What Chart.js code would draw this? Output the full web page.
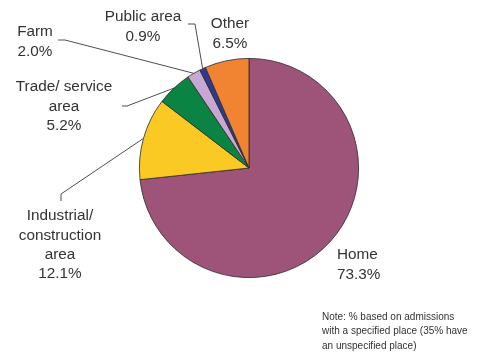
<!DOCTYPE html>
<html>
<head>
<meta charset="utf-8">
<script src="https://cdn.jsdelivr.net/npm/chart.js@4.4.1/dist/chart.umd.min.js"></script>
<style>
html,body{margin:0;padding:0;background:#fff;}
#wrap{position:relative;width:479px;height:352px;}
</style>
</head>
<body>
<div id="wrap"><canvas id="c" width="479" height="352"></canvas></div>
<script>
const categories = ["Home", "Industrial/ construction area", "Trade/ service area", "Farm", "Public area", "Other"];
const values = [73.3, 12.1, 5.2, 2.0, 0.9, 6.5];
const valueLabels = ["73.3%", "12.1%", "5.2%", "2.0%", "0.9%", "6.5%"];
const colors = ["#9e5479", "#fbc924", "#0b8443", "#c8a8d2", "#2c3a91", "#f18433"];
const noteLines = ["Note: % based on admissions", "with a specified place (35% have", "an unspecified place)"];

// label layout (text lines, anchor, leader elbow points)
const labelLayout = [
  {lines: ["Home", valueLabels[0]], x: 337, y: 255, align: "left", leader: null},
  {lines: ["Industrial/", "construction", "area", valueLabels[1]], x: 60, y: 216, align: "center", leader: [[61, 201], [61, 194]]},
  {lines: ["Trade/ service", "area", valueLabels[2]], x: 64, y: 87, align: "center", leader: [[122, 106], [127, 106]]},
  {lines: ["Farm", valueLabels[3]], x: 35, y: 32, align: "center", leader: [[58, 40], [65, 40]]},
  {lines: ["Public area", valueLabels[4]], x: 143, y: 17, align: "center", leader: [[188, 24], [195, 24]]},
  {lines: ["Other", valueLabels[5]], x: 230, y: 24, align: "center", leader: null}
];

const labelPlugin = {
  id: "labels",
  afterDraw(chart) {
    const ctx = chart.ctx;
    const meta = chart.getDatasetMeta(0);
    ctx.save();
    ctx.font = "15.3px 'Liberation Sans', Arial, sans-serif";
    ctx.fillStyle = "#333";
    ctx.textBaseline = "middle";
    labelLayout.forEach((lab, i) => {
      ctx.textAlign = lab.align;
      lab.lines.forEach((t, k) => ctx.fillText(t, lab.x, lab.y + k * 19.3));
      if (lab.leader) {
        const arc = meta.data[i];
        const mid = (arc.startAngle + arc.endAngle) / 2;
        const ex = arc.x + Math.cos(mid) * arc.outerRadius;
        const ey = arc.y + Math.sin(mid) * arc.outerRadius;
        ctx.beginPath();
        ctx.strokeStyle = "#3a3a3a";
        ctx.lineWidth = 0.9;
        ctx.moveTo(lab.leader[0][0], lab.leader[0][1]);
        for (let p = 1; p < lab.leader.length; p++) ctx.lineTo(lab.leader[p][0], lab.leader[p][1]);
        ctx.lineTo(ex, ey);
        ctx.stroke();
      }
    });
    ctx.font = "10px 'Liberation Sans', Arial, sans-serif";
    ctx.textAlign = "left";
    ctx.fillStyle = "#333";
    noteLines.forEach((t, k) => ctx.fillText(t, 322, 317 + k * 14.5));
    ctx.restore();
  }
};

new Chart(document.getElementById("c"), {
  type: "pie",
  data: {
    labels: categories,
    datasets: [{
      data: values,
      backgroundColor: colors,
      borderColor: "#2a2a2a",
      borderWidth: 0.8
    }]
  },
  options: {
    responsive: false,
    animation: false,
    rotation: 0,
    layout: {padding: {top: 58, bottom: 74, left: 139, right: 120}},
    plugins: {legend: {display: false}, tooltip: {enabled: false}}
  },
  plugins: [labelPlugin]
});
</script>
</body>
</html>
